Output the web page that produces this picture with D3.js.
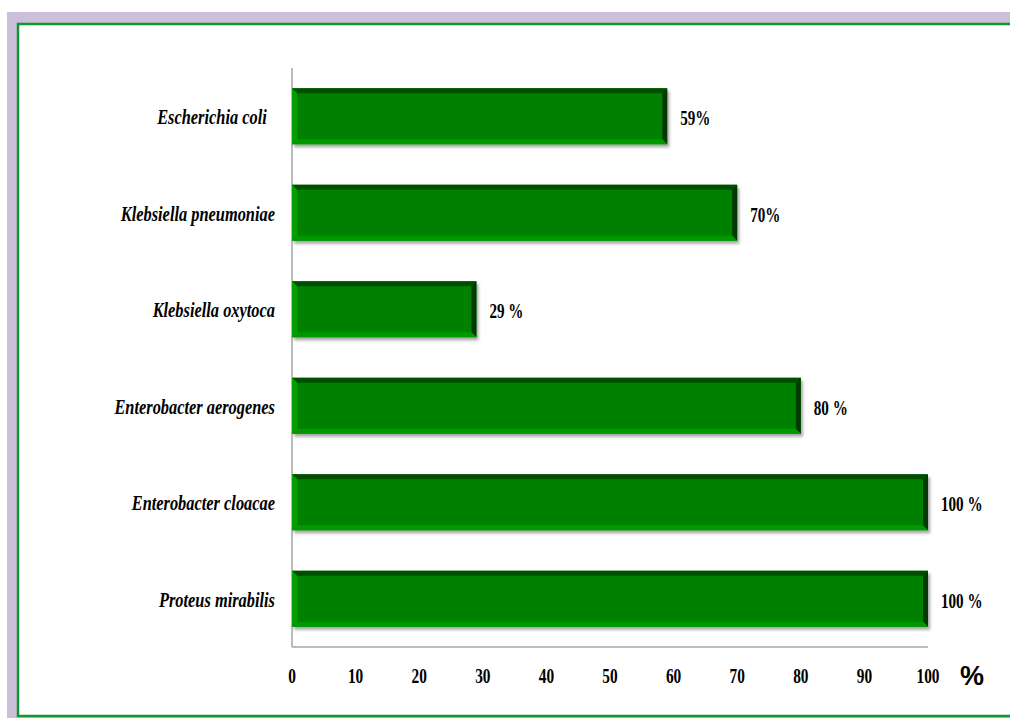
<!DOCTYPE html>
<html>
<head>
<meta charset="utf-8">
<script src="https://cdn.jsdelivr.net/npm/d3@7/dist/d3.min.js"></script>
<style>
  html, body { margin: 0; padding: 0; background: #ffffff; }
  svg { display: block; }
</style>
</head>
<body>
<svg id="chart" width="1010" height="718"></svg>
<script>
// Species (top to bottom) and percentage values
const species = [
  "Escherichia coli  ",
  "Klebsiella pneumoniae",
  "Klebsiella oxytoca",
  "Enterobacter aerogenes",
  "Enterobacter cloacae",
  "Proteus mirabilis"
];
const percents = [59, 70, 29, 80, 100, 100];
const valueLabels = ["59%", "70%", "29 %", "80 %", "100 %", "100 %"];
const xTicks = [0, 10, 20, 30, 40, 50, 60, 70, 80, 90, 100];

const svg = d3.select("#chart");

// Frame: lavender band with green inner border
svg.append("rect").attr("x", 7).attr("y", 12).attr("width", 1003).attr("height", 706).attr("fill", "#cbbfd9");
svg.append("rect").attr("x", 18).attr("y", 24).attr("width", 1000).attr("height", 692)
  .attr("fill", "#ffffff").attr("stroke", "#12962f").attr("stroke-width", 2.5);

const plot = { left: 292, right: 928, top: 68, bottom: 647 };

const x = d3.scaleLinear().domain([0, 100]).range([plot.left, plot.right]);
const y = d3.scaleBand().domain(species).range([plot.top, plot.bottom]).paddingInner(0.42).paddingOuter(0.21);

const defs = svg.append("defs");
const shadow = defs.append("filter").attr("id", "barShadow")
  .attr("x", "-5%").attr("y", "-20%").attr("width", "115%").attr("height", "150%");
shadow.append("feDropShadow").attr("dx", 2).attr("dy", 3).attr("stdDeviation", 1.6)
  .attr("flood-color", "#000").attr("flood-opacity", 0.35);

// Axes lines
svg.append("line").attr("x1", plot.left).attr("x2", plot.left).attr("y1", plot.top).attr("y2", plot.bottom)
  .attr("stroke", "#a6a6a6").attr("stroke-width", 1.5);
svg.append("line").attr("x1", plot.left).attr("x2", plot.right).attr("y1", plot.bottom).attr("y2", plot.bottom)
  .attr("stroke", "#a6a6a6").attr("stroke-width", 1.5);

// Bevelled bars
const bev = 5;
const bars = svg.append("g").selectAll("g").data(species).join("g");
bars.each(function(d, i) {
  const g = d3.select(this);
  const x0 = x(0), x1 = x(percents[i]);
  const y0 = y(d), y1 = y(d) + y.bandwidth();
  g.append("rect").attr("x", x0).attr("y", y0).attr("width", x1 - x0).attr("height", y1 - y0)
    .attr("fill", "#008000").attr("filter", "url(#barShadow)");
  const poly = (pts, c) => g.append("polygon").attr("points", pts.map(p => p.join(",")).join(" ")).attr("fill", c);
  poly([[x0, y0], [x1, y0], [x1 - bev, y0 + bev], [x0 + bev, y0 + bev]], "#004f00");
  poly([[x1, y0], [x1, y1], [x1 - bev, y1 - bev], [x1 - bev, y0 + bev]], "#003a00");
  poly([[x0, y1], [x1, y1], [x1 - bev, y1 - bev], [x0 + bev, y1 - bev]], "#009a00");
  poly([[x0, y0], [x0 + bev, y0 + bev], [x0 + bev, y1 - bev], [x0, y1]], "#00a000");
});

const labelFont = "'Liberation Serif', 'Times New Roman', serif";

// Category labels
svg.append("g").selectAll("text").data(species).join("text")
  .attr("x", 0).attr("y", 0)
  .attr("transform", d => `translate(${plot.left - 17},${y(d) + y.bandwidth() / 2 + 8}) scale(0.82,1)`)
  .attr("text-anchor", "end")
  .attr("font-family", labelFont).attr("font-weight", "bold").attr("font-style", "italic")
  .attr("font-size", 20).attr("fill", "#000")
  .style("white-space", "pre")
  .text(d => d);

// Value labels
svg.append("g").selectAll("text").data(species).join("text")
  .attr("transform", (d, i) => `translate(${x(percents[i]) + 13},${y(d) + y.bandwidth() / 2 + 9}) scale(0.72,1)`)
  .attr("font-family", labelFont).attr("font-weight", "bold")
  .attr("font-size", 21).attr("fill", "#000")
  .text((d, i) => valueLabels[i]);

// X tick labels
svg.append("g").selectAll("text").data(xTicks).join("text")
  .attr("transform", d => `translate(${x(d)},683) scale(0.73,1)`)
  .attr("text-anchor", "middle")
  .attr("font-family", labelFont).attr("font-weight", "bold")
  .attr("font-size", 21).attr("fill", "#000")
  .text(d => d);

// Axis unit
svg.append("text").attr("x", 972).attr("y", 685).attr("text-anchor", "middle")
  .attr("font-family", "'Liberation Sans', Arial, sans-serif").attr("font-weight", "bold")
  .attr("font-size", 27).attr("fill", "#000").text("%");
</script>
</body>
</html>
